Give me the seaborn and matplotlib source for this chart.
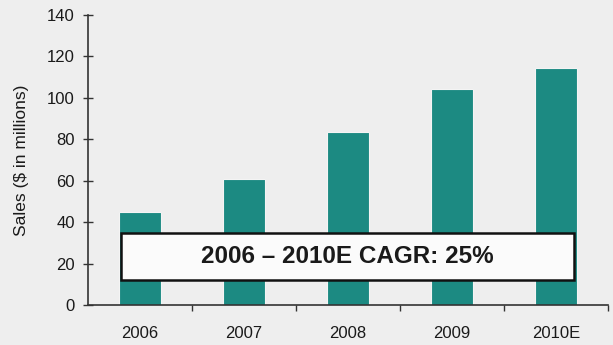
import matplotlib
matplotlib.use("Agg")
import matplotlib.pyplot as plt
import seaborn as sns
import pandas as pd
from matplotlib.patches import Rectangle

years = ["2006", "2007", "2008", "2009", "2010E"]
sales = [45, 61, 83.5, 104.5, 114.5]
y_ticks = [0, 20, 40, 60, 80, 100, 120, 140]
cagr_label = "2006 \u2013 2010E CAGR: 25%"

bg = "#eeeeee"
bar_color = "#1c8a82"

sns.set_style("ticks")
plt.rcParams["font.family"] = ["Liberation Sans", "DejaVu Sans"]

df = pd.DataFrame({"Year": years, "Sales": sales})

fig = plt.figure(figsize=(6.13, 3.45), dpi=100, facecolor=bg)
ax = fig.add_axes([0.1436, 0.1159, 0.8484, 0.8406])
ax.set_facecolor(bg)

sns.barplot(data=df, x="Year", y="Sales", color=bar_color, width=0.41,
            saturation=1, edgecolor="#f4f4f4", linewidth=0.8, ax=ax, zorder=2)

ax.set_xlim(-0.5, 4.5)
ax.set_ylim(0, 140)
ax.set_yticks(y_ticks)
ax.set_yticklabels([str(t) for t in y_ticks], fontsize=12, color="#1a1a1a")
ax.set_xlabel("")
ax.set_ylabel("Sales ($ in millions)", fontsize=12.5, color="#1a1a1a", labelpad=13)

# x ticks sit between categories, labels centred under bars
ax.set_xticks([0.5, 1.5, 2.5, 3.5, 4.5])
ax.set_xticklabels([])
ax.set_xticks(range(len(years)), minor=True)
ax.set_xticklabels(years, minor=True, fontsize=12, color="#1a1a1a")
ax.tick_params(axis="x", which="minor", length=0, pad=15)
ax.tick_params(axis="x", which="major", direction="out", length=4, width=1, color="#333333")
ax.tick_params(axis="y", direction="inout", length=7, width=1, color="#333333", pad=6)

for side in ["top", "right"]:
    ax.spines[side].set_visible(False)
for side in ["left", "bottom"]:
    ax.spines[side].set_color("#333333")
    ax.spines[side].set_linewidth(1.2)

# CAGR callout box
box = Rectangle((-0.18, 12.1), 4.35, 22.8, facecolor="#fbfbfb", edgecolor="#111111",
                linewidth=1.8, zorder=4)
ax.add_patch(box)
ax.text(-0.18 + 4.35 / 2, 12.1 + 22.8 / 2, cagr_label, ha="center", va="center",
        fontsize=17.5, fontweight="bold", color="#1a1a1a", zorder=5)

fig.savefig("out.png", dpi=100, facecolor=bg)
